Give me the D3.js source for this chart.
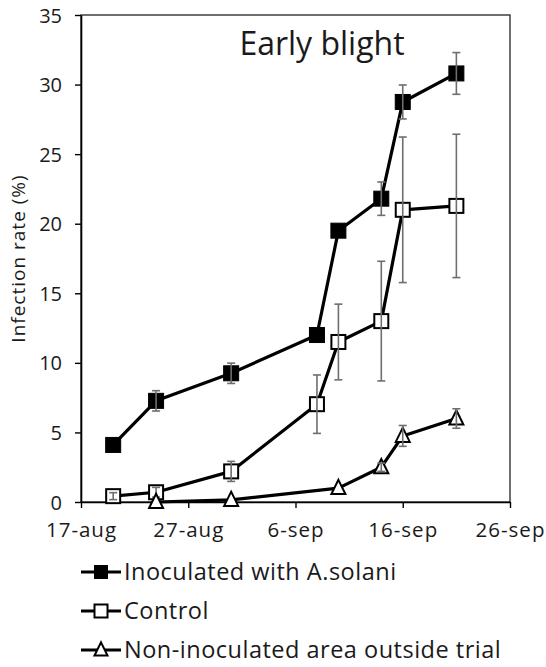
<!DOCTYPE html>
<html>
<head>
<meta charset="utf-8">
<script src="https://cdn.jsdelivr.net/npm/d3@7"></script>
<style>
  html, body { margin: 0; padding: 0; background: #fff; }
  svg { display: block; }
  text { font-family: "Open Sans", Lato, sans-serif; fill: #1a1a1a; }
</style>
</head>
<body>
<svg id="chart" width="546" height="667"></svg>
<script>
// ---- Data ----
const dates = ["2020-08-20", "2020-08-24", "2020-08-31", "2020-09-08", "2020-09-10", "2020-09-14", "2020-09-16", "2020-09-21"];
const inoculated = [4.1, 7.27, 9.25, 12.0, 19.5, 21.8, 28.75, 30.8];
const inoculatedErr = [0, 0.73, 0.73, 0, 0, 1.2, 1.22, 1.5];
const control = [0.42, 0.7, 2.2, 7.03, 11.5, 13.0, 21.0, 21.28];
const controlErr = [0.25, 0.35, 0.72, 2.1, 2.72, 4.3, 5.23, 5.15];
const nonInoculated = [null, 0, 0.15, null, 1.0, 2.5, 4.75, 6.0];
const nonInoculatedErr = [null, 0, 0, null, 0, 0.3, 0.75, 0.7];
const xTickLabels = ["2020-08-17", "2020-08-27", "2020-09-06", "2020-09-16", "2020-09-26"];
const yTicks = [0, 5, 10, 15, 20, 25, 30, 35];
const seriesNames = ["Inoculated with A.solani", "Control", "Non-inoculated area outside trial"];
const titleText = "Early blight";
const yAxisTitle = "Infection rate (%)";

const parse = d3.timeParse("%Y-%m-%d");
const fmt = d3.timeFormat("%-d-%b");

const svg = d3.select("#chart");
const margin = { left: 81, right: 36, top: 15, bottom: 165 };
const W = 546, H = 667;
const x = d3.scaleTime()
  .domain([parse(xTickLabels[0]), parse(xTickLabels[xTickLabels.length - 1])])
  .range([margin.left, W - margin.right]);
const y = d3.scaleLinear().domain([0, 35]).range([H - margin.bottom, margin.top]);

// plot frame
svg.append("rect")
  .attr("x", x.range()[0]).attr("y", y.range()[1])
  .attr("width", x.range()[1] - x.range()[0])
  .attr("height", y.range()[0] - y.range()[1])
  .attr("fill", "none").attr("stroke", "#222").attr("stroke-width", 1.3);

// axes
const xAxis = d3.axisBottom(x)
  .tickValues(xTickLabels.map(parse))
  .tickFormat(d => fmt(d).toLowerCase())
  .tickSize(6).tickSizeOuter(0).tickPadding(6);
const gx = svg.append("g").attr("transform", `translate(0,${y.range()[0]})`).call(xAxis);
gx.selectAll("text").attr("font-size", 20.5).attr("letter-spacing", 1).attr("dy", 23);

const yAxis = d3.axisLeft(y).tickValues(yTicks).tickSize(6).tickSizeOuter(0).tickPadding(13);
const gy = svg.append("g").attr("transform", `translate(${x.range()[0]},0)`).call(yAxis);
gy.selectAll("text").attr("font-size", 20).attr("dy", "0.35em");

[gx, gy].forEach(g => {
  g.select(".domain").attr("stroke", "#000").attr("stroke-width", 1.6);
  g.selectAll(".tick line").attr("stroke", "#000").attr("stroke-width", 1.4);
  g.selectAll("text").attr("fill", "#1a1a1a").style("font-family", "'Open Sans', sans-serif");
});

// y axis title
svg.append("text")
  .attr("transform", `translate(25,${(y.range()[0] + y.range()[1]) / 2}) rotate(-90)`)
  .attr("text-anchor", "middle")
  .attr("font-size", 19)
  .attr("letter-spacing", 1)
  .text(yAxisTitle);

// chart title
svg.append("text")
  .attr("x", 322).attr("y", 55)
  .attr("text-anchor", "middle")
  .attr("font-size", 32)
  .text(titleText);

// series
const series = [
  { name: seriesNames[0], vals: inoculated, err: inoculatedErr, marker: "filled" },
  { name: seriesNames[1], vals: control, err: controlErr, marker: "open" },
  { name: seriesNames[2], vals: nonInoculated, err: nonInoculatedErr, marker: "triangle" }
];

const line = d3.line()
  .defined(d => d.v != null)
  .x(d => x(d.date)).y(d => y(d.v));

function drawMarker(g, type, cx, cy, s) {
  if (type === "triangle") {
    const h = s * 0.95;
    g.append("path")
      .attr("d", `M${cx},${cy - h * 0.62} L${cx + s / 2},${cy + h * 0.45} L${cx - s / 2},${cy + h * 0.45} Z`)
      .attr("fill", "#fff").attr("stroke", "#000").attr("stroke-width", 2);
  } else {
    g.append("rect")
      .attr("x", cx - s / 2).attr("y", cy - s / 2)
      .attr("width", s).attr("height", s)
      .attr("fill", type === "filled" ? "#000" : "#fff")
      .attr("stroke", "#000").attr("stroke-width", type === "filled" ? 1 : 2);
  }
}

series.forEach(s => {
  const pts = dates.map((d, i) => ({ date: parse(d), v: s.vals[i], e: s.err[i] }))
    .filter(p => p.v != null);
  const g = svg.append("g");
  g.append("path").datum(pts)
    .attr("d", line)
    .attr("fill", "none").attr("stroke", "#000").attr("stroke-width", 3.2)
    .attr("stroke-linejoin", "round");
  pts.forEach(p => drawMarker(g, s.marker, x(p.date), y(p.v), s.marker === "filled" ? 15 : 14));
  // error bars
  pts.filter(p => p.e > 0).forEach(p => {
    const cx = x(p.date);
    const eg = g.append("g").attr("stroke", "#6e6e6e").attr("stroke-width", 1.6);
    eg.append("line").attr("x1", cx).attr("x2", cx).attr("y1", y(p.v + p.e)).attr("y2", y(p.v - p.e));
    eg.append("line").attr("x1", cx - 4).attr("x2", cx + 4).attr("y1", y(p.v + p.e)).attr("y2", y(p.v + p.e));
    eg.append("line").attr("x1", cx - 4).attr("x2", cx + 4).attr("y1", y(p.v - p.e)).attr("y2", y(p.v - p.e));
  });
});

// legend
const legend = svg.append("g");
series.forEach((s, i) => {
  const ly = 572 + i * 39;
  const lg = legend.append("g");
  lg.append("line").attr("x1", 81).attr("x2", 121).attr("y1", ly).attr("y2", ly)
    .attr("stroke", "#000").attr("stroke-width", 3);
  drawMarker(lg, s.marker, 101, ly, 13);
  lg.append("text").attr("x", 124).attr("y", ly).attr("dy", "0.36em")
    .attr("font-size", 23.5).attr("letter-spacing", 0.5).text(s.name);
});
</script>
</body>
</html>
